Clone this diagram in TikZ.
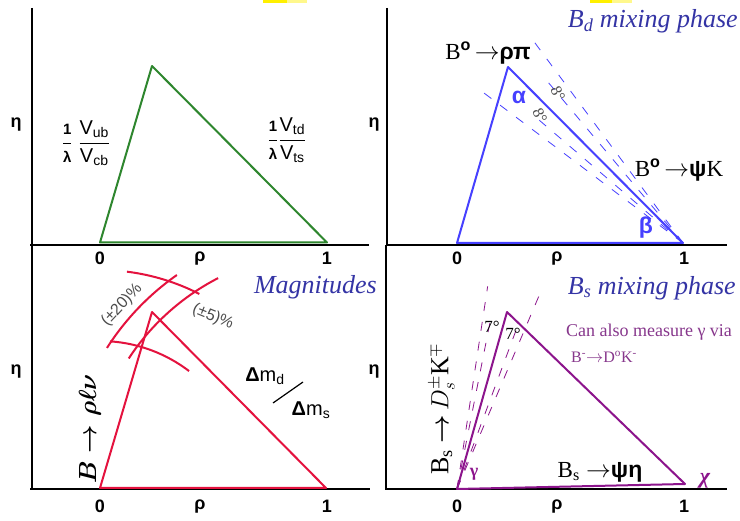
\documentclass[tikz,border=0pt]{standalone}
\usepackage{amsmath}
\usepackage{fontspec}
\setmainfont{Liberation Sans}
\newfontfamily\tnr{Liberation Serif}
\usetikzlibrary{calc}

\definecolor{ckmgreen}{RGB}{46,134,46}
\definecolor{ckmblue}{RGB}{70,64,255}
\definecolor{titleblue}{RGB}{52,52,165}
\definecolor{ckmred}{RGB}{228,18,62}
\definecolor{ckmpurple}{RGB}{140,20,140}
\definecolor{notepurple}{RGB}{135,55,140}
\definecolor{hilite}{RGB}{255,240,0}

\newcommand{\fsz}[1]{\fontsize{#1bp}{#1bp}\selectfont}
\newcommand{\invlam}{\dfrac{\text{\fsz{15}\bfseries 1}}{\text{\fsz{15}\bfseries λ}}}

\tikzset{
  axisline/.style={line width=2bp, black},
  side/.style={line width=2bp, line join=round},
  band/.style={line width=0.8bp, dash pattern=on 9bp off 11bp},
  ticklab/.style={font=\fsz{18}\bfseries, anchor=base, inner sep=0pt},
  title/.style={font=\tnr\fsz{26}\itshape, text=titleblue, inner sep=0pt},
  decay/.style={font=\fsz{23}, inner sep=0pt},
  angl/.style={font=\fsz{23}\bfseries, inner sep=0pt},
}

\begin{document}
\begin{tikzpicture}[x=1bp, y=1bp]
  \useasboundingbox (0,0) rectangle (740,521);
  \fill[white] (0,0) rectangle (740,521);

  % bits of highlighted text cut off at the top
  \fill[hilite] (263,518) rectangle (287,521);
  \fill[hilite!45] (287,518) rectangle (307,521);
  \fill[hilite] (590,518) rectangle (612,521);
  \fill[hilite!45] (612,518) rectangle (632,521);

  % axes
  \draw[axisline] (32,513) -- (32,276) (30,276) -- (369,276);
  \draw[axisline] (387,513) -- (387,276) (386,276) -- (727,276);
  \draw[axisline] (32,276) -- (32,32) (30,32) -- (370,32);
  \draw[axisline] (386,276) -- (386,32) (385,32) -- (727,32);

  \foreach \dx/\p in {0/l, 357/r} {
    \foreach \yb/\q in {256/t, 8/b} {
      \node[ticklab] (zero-\p\q) at (100+\dx,\yb) {0};
      \node[ticklab] (rho-\p\q) at (200+\dx,\yb+3) {ρ};
      \node[ticklab] (one-\p\q) at (327+\dx,\yb) {1};
    }
  }
  \node[ticklab] (eta-lt) at (16,393) {η};
  \node[ticklab] (eta-rt) at (374,393) {η};
  \node[ticklab] (eta-lb) at (16,146) {η};
  \node[ticklab] (eta-rb) at (374,146) {η};

  % top left: the triangle
  \coordinate (tlO) at (100,278.5);
  \coordinate (tlA) at (152,455);
  \coordinate (tlI) at (327,278.5);
  \draw[side, ckmgreen] (tlO) -- (tlA) -- (tlI) -- cycle;
  \node[font=\fsz{20}] (vub) at (86,378)
    {$\invlam\;\dfrac{\text{V}_{\text{ub}}}{\text{V}_{\text{cb}}}$};
  \node[font=\fsz{20}] (vtd) at (287,381)
    {$\invlam\dfrac{\text{V}_{\text{td}}}{\text{V}_{\text{ts}}}$};

  % top right: B_d mixing phase
  \coordinate (trO) at (457,278);
  \coordinate (trA) at (508,454);
  \coordinate (trI) at (683,278);
  \foreach \a/\l in {126.5/250, 130/212, 143/250, 139.5/192}
    \draw[band, ckmblue] (trI) -- ++(\a:\l);
  \draw[side, ckmblue] (trO) -- (trA) -- (trI) -- cycle;
  \node[title, anchor=east] (bdtitle) at (738,500) {B\textsubscript{\itshape d} mixing phase};
  \node[decay] (rhopi) at (488,468) {{\tnr B}\textsuperscript{\bfseries o}\,$\rightarrow$\textbf{ρπ}};
  \node[decay] (psik) at (679,351) {{\tnr B}\textsuperscript{\bfseries o}\,$\rightarrow$\textbf{ψ}{\tnr K}};
  \node[angl, text=ckmblue] (alpha) at (519,424) {α};
  \node[angl, text=ckmblue] (beta) at (646,293) {β};
  \node[font=\tnr\fsz{16}, text=black!70, rotate=-65] (eight-a) at (558,427) {8°};
  \node[font=\tnr\fsz{16}, text=black!70, rotate=-65] (eight-b) at (540,405) {8°};

  % bottom left: magnitudes
  \coordinate (blO) at (100,33);
  \coordinate (blA) at (152,209);
  \coordinate (blI) at (326,33);
  \draw[side, ckmred] (blO) -- (blA) -- (blI) -- cycle;
  \draw[side, ckmred] (blO) ++(82.9:218) arc[start angle=82.9, end angle=62.9, radius=218];
  \draw[side, ckmred] (blO) ++(86.1:147) arc[start angle=86.1, end angle=52.7, radius=147];
  \draw[side, ckmred] (blI) ++(147.4:260) arc[start angle=147.4, end angle=125, radius=260];
  \draw[side, ckmred] (blI) ++(146.7:236) arc[start angle=146.7, end angle=117.2, radius=236];
  \node[title, anchor=east] (magn) at (377,234) {Magnitudes};
  \node[font=\fsz{16}, text=black!70, rotate=47] (pct20) at (122,216) {(±20)\%};
  \node[font=\fsz{16}, text=black!70, rotate=-22] (pct5) at (213,204) {(±5)\%};
  \node[font=\fsz{20}, inner sep=0pt] (dmd) at (265,145) {\textbf{Δ}m\textsubscript{d}};
  \node[font=\fsz{20}, inner sep=0pt] (dms) at (311,111) {\textbf{Δ}m\textsubscript{s}};
  \coordinate (slash-a) at (273,118);
  \coordinate (slash-b) at (303,139);
  \draw[line width=1.2bp] (slash-a) -- (slash-b);
  \node[font=\fsz{27}, rotate=90] (brholnu) at (90,92) {$\boldsymbol{B\rightarrow\rho\ell\nu}$};

  % bottom right: B_s mixing phase
  \coordinate (brO) at (457,32);
  \coordinate (brA) at (507,209);
  \coordinate (brI) at (685,37);
  \foreach \a/\l in {81.4/205, 78.8/175, 67/212, 69.6/180}
    \draw[band, ckmpurple] (brO) -- ++(\a:\l);
  \draw[side, ckmpurple] (brO) -- (brA) -- (brI) -- cycle;
  \node[title, anchor=east] (bstitle) at (736,233) {B\textsubscript{\itshape s} mixing phase};
  \node[font=\tnr\fsz{18}, text=notepurple] (gammavia) at (649,189) {Can also measure γ via};
  \node[font=\tnr\fsz{16}, text=notepurple] (bdk) at (604,164)
    {B\textsuperscript{-}$\rightarrow$D\textsuperscript{o}K\textsuperscript{-}};
  \node[font=\tnr\fsz{17}, inner sep=0pt] (seven-a) at (492,194) {7°};
  \node[font=\tnr\fsz{17}, inner sep=0pt] (seven-b) at (513,187) {7°};
  \node[font=\tnr\fsz{26}, rotate=90] (bsdsk) at (442,112)
    {B\textsubscript{s} $\boldsymbol{\rightarrow}$\,$D^{\pm}_{s}$K$^{\mp}$};
  \node[decay] (bspsieta) at (600,49) {{\tnr B\textsubscript{s}} $\rightarrow$\textbf{ψη}};
  \node[font=\tnr\fsz{18}\bfseries, text=ckmpurple] (gamma) at (474,47) {γ};
  \node[font=\tnr\fsz{22}\bfseries\itshape, text=ckmpurple] (chi) at (705,40) {χ};
\end{tikzpicture}
\end{document}
